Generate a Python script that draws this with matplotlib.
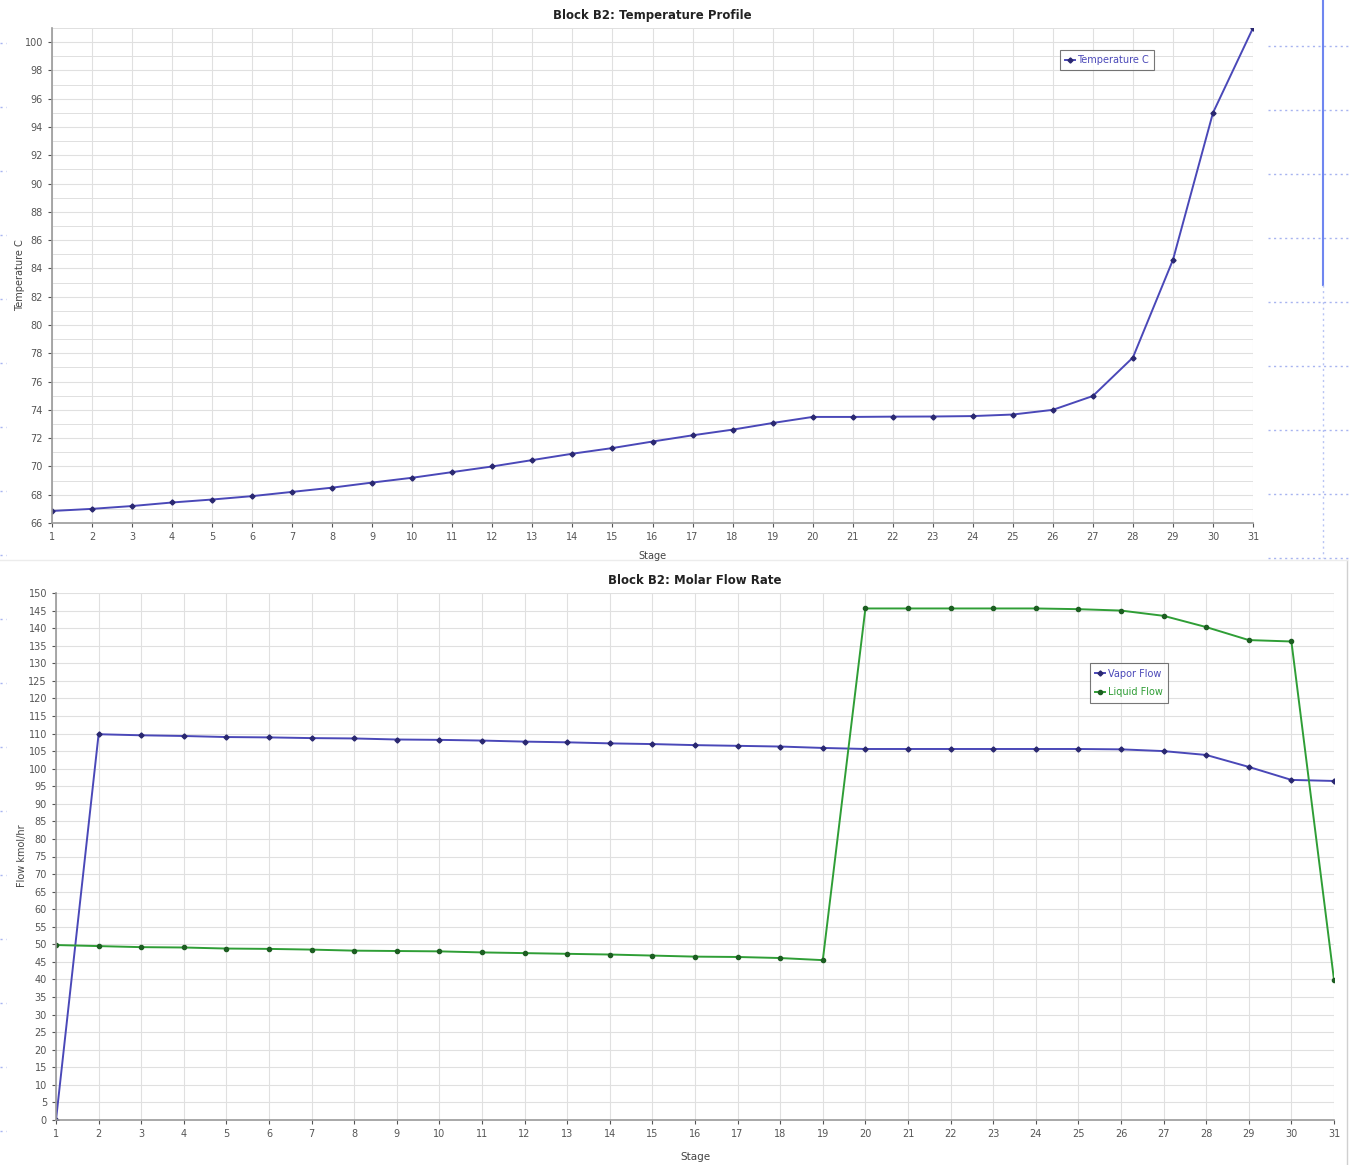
import matplotlib
matplotlib.use("Agg")
import matplotlib.pyplot as plt
from matplotlib.lines import Line2D
from matplotlib.ticker import MultipleLocator

# Column profile data for block B2
stages = list(range(1, 32))
temperature_c = [66.85, 67.0, 67.2, 67.45, 67.66, 67.9, 68.2, 68.5, 68.86, 69.2,
                 69.6, 70.0, 70.45, 70.9, 71.3, 71.76, 72.2, 72.6, 73.07, 73.5,
                 73.5, 73.52, 73.53, 73.56, 73.67, 74.0, 74.98, 77.7, 84.6, 95.0,
                 101.0]
vapor_flow = [0.0, 109.8, 109.5, 109.3, 109.0, 108.9, 108.7, 108.6, 108.3, 108.2,
              108.0, 107.7, 107.5, 107.2, 107.0, 106.7, 106.5, 106.3, 105.9, 105.6,
              105.6, 105.6, 105.6, 105.6, 105.6, 105.5, 105.0, 103.9, 100.5, 96.8,
              96.5]
liquid_flow = [49.8, 49.5, 49.2, 49.1, 48.8, 48.7, 48.5, 48.2, 48.1, 48.0,
               47.7, 47.5, 47.3, 47.1, 46.8, 46.5, 46.4, 46.1, 45.5, 145.6,
               145.6, 145.6, 145.6, 145.6, 145.4, 145.0, 143.5, 140.3, 136.6, 136.2,
               39.9]

W, H = 1351, 1165
fig = plt.figure(figsize=(W / 100, H / 100), dpi=100)
fig.patch.set_facecolor("white")


def px_axes(x0, y0, x1, y1):
    return fig.add_axes([x0 / W, 1 - y1 / H, (x1 - x0) / W, (y1 - y0) / H])


def px(x, y):
    return x / W, 1 - y / H


TICK_COLOR = "#555555"
GRID_COLOR = "#e0e0e0"
BLUE = "#4a48b8"
GREEN = "#2f9e36"
DARK_GREEN = "#1d5e22"


def style_axes(ax):
    for side in ("top", "right"):
        ax.spines[side].set_visible(False)
    for side in ("left", "bottom"):
        ax.spines[side].set_color("#9a9a9a")
        ax.spines[side].set_linewidth(1.2)
    ax.tick_params(axis="both", labelsize=7, colors=TICK_COLOR, length=3, width=0.8)
    ax.tick_params(axis="both", which="minor", length=0)
    ax.grid(True, which="major", color=GRID_COLOR, linewidth=0.8)
    ax.set_axisbelow(True)
    ax.set_xticks(stages)
    ax.set_xticklabels([str(s) for s in stages])


# --- Temperature profile -------------------------------------------------
ax1 = px_axes(52, 28, 1253, 523)
style_axes(ax1)
ax1.plot(stages, temperature_c, color=BLUE, linewidth=1.4, marker="D",
         markersize=2.6, markerfacecolor="#2a2870", markeredgecolor="#2a2870",
         label="Temperature C")
ax1.set_xlim(1, 31)
ax1.set_ylim(66, 101)
ax1.yaxis.set_major_locator(MultipleLocator(2))
ax1.yaxis.set_minor_locator(MultipleLocator(1))
ax1.grid(True, which="minor", axis="y", color=GRID_COLOR, linewidth=0.7)
fig.text(*px(20, 275), "Temperature C", fontsize=7, color="#444444",
         rotation=90, ha="center", va="center")
fig.text(*px(652, 15), "Block B2: Temperature Profile", fontsize=8.5,
         fontweight="bold", color="#222222", ha="center", va="center")
fig.text(*px(652, 556), "Stage", fontsize=7, color="#444444", ha="center", va="center")
leg1 = ax1.legend(loc="center", bbox_to_anchor=px(1107, 60),
                  bbox_transform=fig.transFigure, fontsize=7, frameon=True,
                  fancybox=False, edgecolor="#555555", handlelength=1.0,
                  handletextpad=0.3, borderpad=0.5, borderaxespad=0)
leg1.get_frame().set_linewidth(0.8)
for t in leg1.get_texts():
    t.set_color(BLUE)

# --- Molar flow rate -----------------------------------------------------
ax2 = px_axes(56, 593, 1334, 1120)
style_axes(ax2)
ax2.plot(stages, vapor_flow, color=BLUE, linewidth=1.4, marker="D",
         markersize=2.6, markerfacecolor="#2a2870", markeredgecolor="#2a2870",
         label="Vapor Flow")
ax2.plot(stages, liquid_flow, color=GREEN, linewidth=1.4, marker="o",
         markersize=3.0, markerfacecolor=DARK_GREEN, markeredgecolor=DARK_GREEN,
         label="Liquid Flow")
ax2.set_xlim(1, 31)
ax2.set_ylim(0, 150)
ax2.yaxis.set_major_locator(MultipleLocator(5))
fig.text(*px(22, 856), "Flow kmol/hr", fontsize=7, color="#444444",
         rotation=90, ha="center", va="center")
fig.text(*px(695, 1157), "Stage", fontsize=7.5, color="#444444",
         ha="center", va="center")
fig.text(*px(695, 580), "Block B2: Molar Flow Rate", fontsize=8.5,
         fontweight="bold", color="#222222", ha="center", va="center")
leg2 = ax2.legend(loc="center", bbox_to_anchor=px(1129, 683),
                  bbox_transform=fig.transFigure, fontsize=7, frameon=True,
                  fancybox=False, edgecolor="#555555", handlelength=1.0,
                  handletextpad=0.3, borderpad=0.55, labelspacing=0.9,
                  borderaxespad=0)
leg2.get_frame().set_linewidth(0.8)
leg2.get_texts()[0].set_color(BLUE)
leg2.get_texts()[1].set_color(GREEN)

# Panel border of the lower chart
fig.add_artist(Line2D([1347 / W, 1347 / W], [0, 1 - 560 / H], transform=fig.transFigure,
                      color="#d0d0d0", linewidth=1))
fig.add_artist(Line2D([0, 1347 / W], [1 - 560 / H, 1 - 560 / H], transform=fig.transFigure,
                      color="#ececec", linewidth=1))

# Dotted guide lines in the side margins
for y in range(46, 560, 64):
    fig.add_artist(Line2D([1268 / W, 1351 / W], [1 - y / H] * 2, transform=fig.transFigure,
                          color="#a8b4f0", linewidth=1, linestyle=(0, (1.5, 2.5))))
for y in range(43, 1165, 64):
    fig.add_artist(Line2D([0, 6 / W], [1 - y / H] * 2, transform=fig.transFigure,
                          color="#a8b4f0", linewidth=1, linestyle=(0, (1.5, 2.5))))
fig.add_artist(Line2D([1323 / W, 1323 / W], [1, 1 - 285 / H], transform=fig.transFigure,
                      color="#6f86f0", linewidth=1.5))
fig.add_artist(Line2D([1323 / W, 1323 / W], [1 - 285 / H, 1 - 558 / H], transform=fig.transFigure,
                      color="#b8c4f4", linewidth=1, linestyle=(0, (1.5, 2.5))))

fig.savefig("out.png", dpi=100, facecolor="white")
